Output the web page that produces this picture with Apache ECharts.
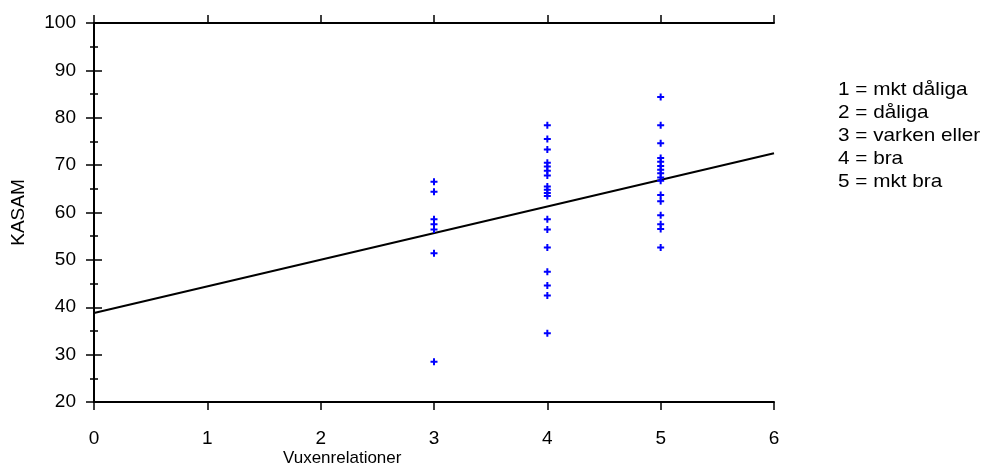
<!DOCTYPE html>
<html>
<head>
<meta charset="utf-8">
<script src="https://cdn.jsdelivr.net/npm/echarts@6/dist/echarts.min.js"></script>
<style>
  html, body { margin: 0; padding: 0; background: #fff; }
  #chart { width: 986px; height: 469px; }
</style>
</head>
<body>
<div id="chart"></div>
<script>
// KASAM values, grouped by Vuxenrelationer score
var vuxen3 = [66.5, 64.4, 58.6, 57.5, 56.4, 51.4, 28.5];
var vuxen4 = [78.4, 75.5, 73.3, 70.5, 69.7, 68.8, 67.8, 65.5, 64.8, 64.1, 63.5,
              58.6, 56.4, 52.6, 47.5, 44.6, 42.5, 34.5];
var vuxen5 = [84.4, 78.4, 74.6, 71.5, 70.7, 69.8, 69.0, 68.3, 67.4, 66.7,
              63.7, 62.4, 59.4, 57.5, 56.5, 52.6];

// regression line end points
var regX = [0, 6];
var regY = [38.8, 72.5];

var legendLines = ['1 = mkt dåliga', '2 = dåliga', '3 = varken eller', '4 = bra', '5 = mkt bra'];

var points = [];
vuxen3.forEach(function (v) { points.push([3, v]); });
vuxen4.forEach(function (v) { points.push([4, v]); });
vuxen5.forEach(function (v) { points.push([5, v]); });

var font = 'Liberation Sans, Arial, sans-serif';

function yAx(pos, showLabel) {
  return {
    type: 'value',
    position: pos,
    min: 20,
    max: 100,
    interval: 10,
    axisLine: { show: true, lineStyle: { color: '#000', width: 2 } },
    axisTick: { show: true, inside: false, length: 8, lineStyle: { color: '#000', width: 1.5 } },
    minorTick: { show: true, splitNumber: 2, length: 4, lineStyle: { color: '#000', width: 1.5 } },
    splitLine: { show: false },
    axisLabel: { show: showLabel, margin: 18, color: '#000', fontSize: 19, fontFamily: font }
  };
}

function xAx(pos, showLabel) {
  return {
    type: 'value',
    position: pos,
    min: 0,
    max: 6,
    interval: 1,
    axisLine: { show: true, onZero: false, lineStyle: { color: '#000', width: 2 } },
    axisTick: { show: true, inside: false, length: 8, lineStyle: { color: '#000', width: 1.5 } },
    splitLine: { show: false },
    axisLabel: { show: showLabel, margin: 27, color: '#000', fontSize: 19, fontFamily: font }
  };
}

var myChart = echarts.init(document.getElementById('chart'));
var option = {
  animation: false,
  grid: { left: 94, right: 212, top: 23, bottom: 67 },
  xAxis: [xAx('bottom', true), xAx('top', false)],
  yAxis: [
    Object.assign(yAx('left', true), {
      name: 'KASAM',
      nameLocation: 'middle',
      nameRotate: 90,
      nameGap: 66,
      nameTextStyle: { color: '#000', fontSize: 19, fontFamily: font, letterSpacing: 2.5 }
    }),
    yAx('right', false)
  ],
  graphic: [
    {
      type: 'text',
      left: 283,
      top: 450,
      style: { text: 'Vuxenrelationer', fill: '#000', fontSize: 17, fontFamily: font, letterSpacing: 0.4 }
    },
    {
      type: 'text',
      x: 838,
      y: 78,
      scaleX: 1.12,
      style: { text: legendLines.join('\n'), fill: '#000', fontSize: 18.5, lineHeight: 23, fontFamily: font }
    }
  ],
  series: [
    {
      type: 'line',
      data: regX.map(function (x, i) { return [x, regY[i]]; }),
      showSymbol: false,
      lineStyle: { color: '#000', width: 2 },
      z: 2
    },
    {
      type: 'scatter',
      data: points,
      symbol: 'path://M2.5,0L4.5,0L4.5,2.5L7,2.5L7,4.5L4.5,4.5L4.5,7L2.5,7L2.5,4.5L0,4.5L0,2.5L2.5,2.5Z',
      symbolSize: 7,
      itemStyle: { color: '#0000ff', opacity: 1 },
      z: 3
    }
  ]
};
myChart.setOption(option);
</script>
</body>
</html>
